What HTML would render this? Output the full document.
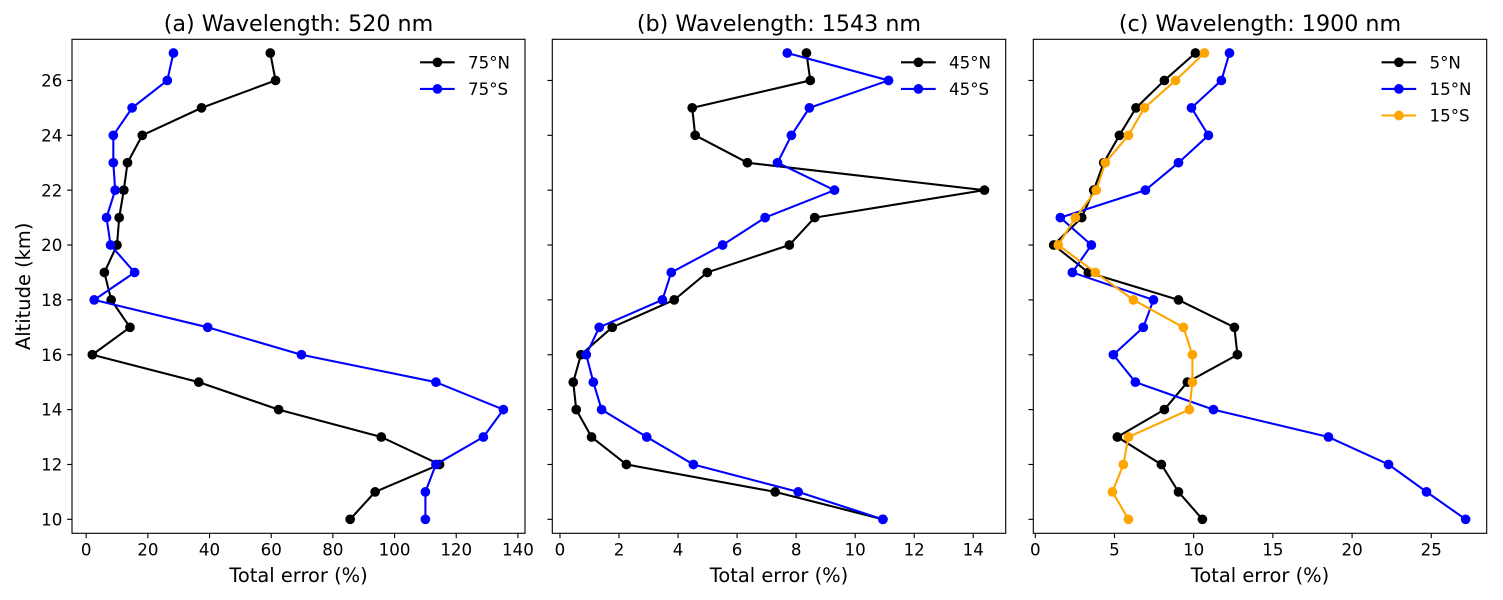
<!DOCTYPE html>
<html lang="en">
<head>
<meta charset="utf-8">
<title>Total error vs altitude</title>
<style>
html,body{margin:0;padding:0;background:#fff;width:1503px;height:600px;overflow:hidden}
svg{display:block}
text{font-family:"DejaVu Sans","Liberation Sans",sans-serif;fill:#000}
</style>
</head>
<body>
<svg id="chart" xmlns="http://www.w3.org/2000/svg" width="1503" height="600" viewBox="0 0 1503 600"></svg>
<script>
const altitudes = [27,26,25,24,23,22,21,20,19,18,17,16,15,14,13,12,11,10];
const yTickValues = [10,12,14,16,18,20,22,24,26];
const yLimits = [9.49,27.5];

const panelATitle = "(a) Wavelength: 520 nm";
const panelAXTicks = [0,20,40,60,80,100,120,140];
const panelAXLimits = [-4.6,142.3];
const series75N = [59.7,61.4,37.4,18.2,13.4,12.2,10.7,10,5.9,8.1,14.2,2,36.5,62.4,95.7,114.6,93.7,85.6];
const series75S = [28.3,26.3,14.9,8.8,8.8,9.4,6.6,7.9,15.7,2.6,39.4,69.8,113.4,135.3,128.8,113.4,110,110];

const panelBTitle = "(b) Wavelength: 1543 nm";
const panelBXTicks = [0,2,4,6,8,10,12,14];
const panelBXLimits = [-0.26,15.1];
const series45N = [8.35,8.48,4.48,4.58,6.35,14.38,8.63,7.77,4.99,3.87,1.77,0.71,0.45,0.55,1.07,2.25,7.29,10.94];
const series45S = [7.7,11.13,8.45,7.84,7.37,9.3,6.95,5.51,3.77,3.47,1.33,0.89,1.13,1.41,2.94,4.52,8.07,10.94];

const panelCTitle = "(c) Wavelength: 1900 nm";
const panelCXTicks = [0,5,10,15,20,25];
const panelCXLimits = [-0.126,28.5];
const series5N = [10.11,8.15,6.36,5.31,4.32,3.69,2.93,1.16,3.35,9.04,12.57,12.76,9.6,8.15,5.18,7.96,9.04,10.55];
const series15N = [12.26,11.75,9.86,10.93,9.04,6.95,1.58,3.54,2.34,7.46,6.82,4.93,6.32,11.25,18.51,22.3,24.7,27.17];
const series15S = [10.68,8.85,6.89,5.88,4.42,3.85,2.53,1.45,3.79,6.19,9.35,9.92,9.92,9.73,5.88,5.56,4.87,5.88];

const panels = [
  {key:"a", left:72, right:525, title:panelATitle, ticks:panelAXTicks, lim:panelAXLimits, yLabels:true, legendX:468,
   series:[{label:"75°N",color:"#000000",values:series75N},{label:"75°S",color:"#0000ff",values:series75S}]},
  {key:"b", left:552.3, right:1005.7, title:panelBTitle, ticks:panelBXTicks, lim:panelBXLimits, yLabels:false, legendX:949,
   series:[{label:"45°N",color:"#000000",values:series45N},{label:"45°S",color:"#0000ff",values:series45S}]},
  {key:"c", left:1033.3, right:1486.7, title:panelCTitle, ticks:panelCXTicks, lim:panelCXLimits, yLabels:false, legendX:1429.5,
   series:[{label:"5°N",color:"#000000",values:series5N},{label:"15°N",color:"#0000ff",values:series15N},{label:"15°S",color:"#ffa500",values:series15S}]}
];

const top_ = 39.3, bottom_ = 533.3;
const NS = "http://www.w3.org/2000/svg";
const svg = document.getElementById("chart");

function make(tag, parent, props) {
  const node = document.createElementNS(NS, tag);
  for (const k in props) node.setAttribute(k, props[k]);
  parent.appendChild(node);
  return node;
}
function yScale(v) {
  return bottom_ - (v - yLimits[0]) / (yLimits[1] - yLimits[0]) * (bottom_ - top_);
}
function slugify(s) {
  return s.replace("°", "").toLowerCase();
}

panels.forEach(function (p) {
  const xScale = function (v) {
    return p.left + (v - p.lim[0]) / (p.lim[1] - p.lim[0]) * (p.right - p.left);
  };

  const g = make("g", svg, {});
  
  

  const bg = make("rect", g, {x:p.left, y:top_, width:p.right - p.left, height:bottom_ - top_, fill:"#fff"});
  
  

  const title = make("text", g, {x:(p.left + p.right) / 2, y:31, "font-size":"22.22px", "text-anchor":"middle"});
  title.textContent = p.title;
  
  

  p.series.forEach(function (s) {
    const sg = make("g", g, {});
    
    

    const pts = s.values.map(function (v, i) {
      return xScale(v).toFixed(2) + "," + yScale(altitudes[i]).toFixed(2);
    }).join(" ");
    const line = make("polyline", sg, {points:pts, fill:"none", stroke:s.color, "stroke-width":2.08, "stroke-linejoin":"round"});
    
    

    s.values.forEach(function (v, i) {
      const c = make("circle", sg, {cx:xScale(v), cy:yScale(altitudes[i]), r:4.86, fill:s.color});
      
      
    });
  });

  const frame = make("rect", g, {x:p.left, y:top_, width:p.right - p.left, height:bottom_ - top_, fill:"none", stroke:"#000", "stroke-width":1.11});
  
  

  p.ticks.forEach(function (t) {
    const x = xScale(t);
    const tick = make("line", g, {x1:x, x2:x, y1:bottom_, y2:bottom_ + 4.86, stroke:"#000", "stroke-width":1.11});
    
    
    const lab = make("text", g, {x:x, y:555.5, "font-size":"16.67px", "text-anchor":"middle"});
    lab.textContent = String(t);
    
    
  });

  yTickValues.forEach(function (t) {
    const y = yScale(t);
    const tick = make("line", g, {x1:p.left - 4.86, x2:p.left, y1:y, y2:y, stroke:"#000", "stroke-width":1.11});
    
    
    if (p.yLabels) {
      const lab = make("text", g, {x:p.left - 9.7, y:y + 6.1, "font-size":"16.67px", "text-anchor":"end"});
      lab.textContent = String(t);
      
      
    }
  });

  const xt = make("text", g, {x:(p.left + p.right) / 2, y:582, "font-size":"19.44px", "text-anchor":"middle"});
  xt.textContent = "Total error (%)";
  
  

  const legend = make("g", g, {});
  
  
  p.series.forEach(function (s, i) {
    const ly = 62.3 + i * 26.6;
    const entry = make("g", legend, {});
    
    
    const l = make("line", entry, {x1:p.legendX - 48, x2:p.legendX - 13.3, y1:ly, y2:ly, stroke:s.color, "stroke-width":2.08});
    
    
    const m = make("circle", entry, {cx:p.legendX - 30.6, cy:ly, r:4.86, fill:s.color});
    
    
    const tx = make("text", entry, {x:p.legendX, y:ly + 6, "font-size":"16.67px"});
    tx.textContent = s.label;
    
    
  });
});

const yTitle = make("text", svg, {transform:"translate(30 286.3) rotate(-90)", "font-size":"19.44px", "text-anchor":"middle"});
yTitle.textContent = "Altitude (km)";


</script>
</body>
</html>
